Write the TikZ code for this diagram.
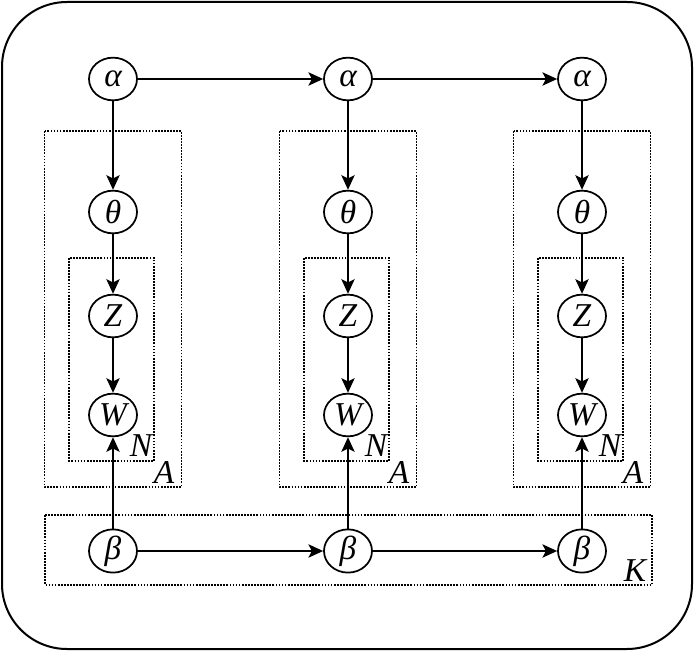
\documentclass[tikz,border=0pt]{standalone}
\usepackage{fontspec}
\setmainfont{Liberation Serif}
\usetikzlibrary{arrows.meta,shapes.geometric}
\begin{document}
\begin{tikzpicture}[x=0.75pt,y=-0.75pt,
  var/.style={draw,ellipse,line width=1.3pt,minimum width=36pt,minimum height=32pt,inner sep=0pt,font=\fontsize{25}{30}\selectfont\itshape},
  arr/.style={line width=1.3pt,-{Stealth[length=11pt,width=10pt,inset=2.5pt]}},
  plate/.style={draw,densely dotted,line width=1.3pt},
  lab/.style={font=\fontsize{25}{30}\selectfont\itshape,inner sep=0pt}]
\useasboundingbox (0,0) rectangle (700,660);
\draw[line width=1.5pt,rounded corners=48.75pt] (2,2) rectangle (692,649);
% plates
\foreach \c/\i in {113/1,348/2,582/3}{
  \draw[plate] (\c-68.5,131) rectangle (\c+68.5,487);
  \draw[plate] (\c-44,258) rectangle (\c+41,461);
  \node[lab] (N\i) at (\c+28,446) {N};
  \node[lab] (A\i) at (\c+51,472) {A};
}
\draw[plate] (45,515) rectangle (652,585);
\node[lab] (K) at (635,571) {K};
% nodes
\foreach \c/\i in {113/1,348/2,582/3}{
  \node[var] (a\i) at (\c,79) {α};
  \node[var] (t\i) at (\c,212) {θ};
  \node[var] (z\i) at (\c,316) {Z};
  \node[var] (w\i) at (\c,415) {W};
  \node[var] (b\i) at (\c,551) {β};
  \draw[arr] (a\i) -- (t\i);
  \draw[arr] (t\i) -- (z\i);
  \draw[arr] (z\i) -- (w\i);
  \draw[arr] (b\i) -- (w\i);
}
\draw[arr] (a1) -- (a2);
\draw[arr] (a2) -- (a3);
\draw[arr] (b1) -- (b2);
\draw[arr] (b2) -- (b3);
\end{tikzpicture}
\end{document}
